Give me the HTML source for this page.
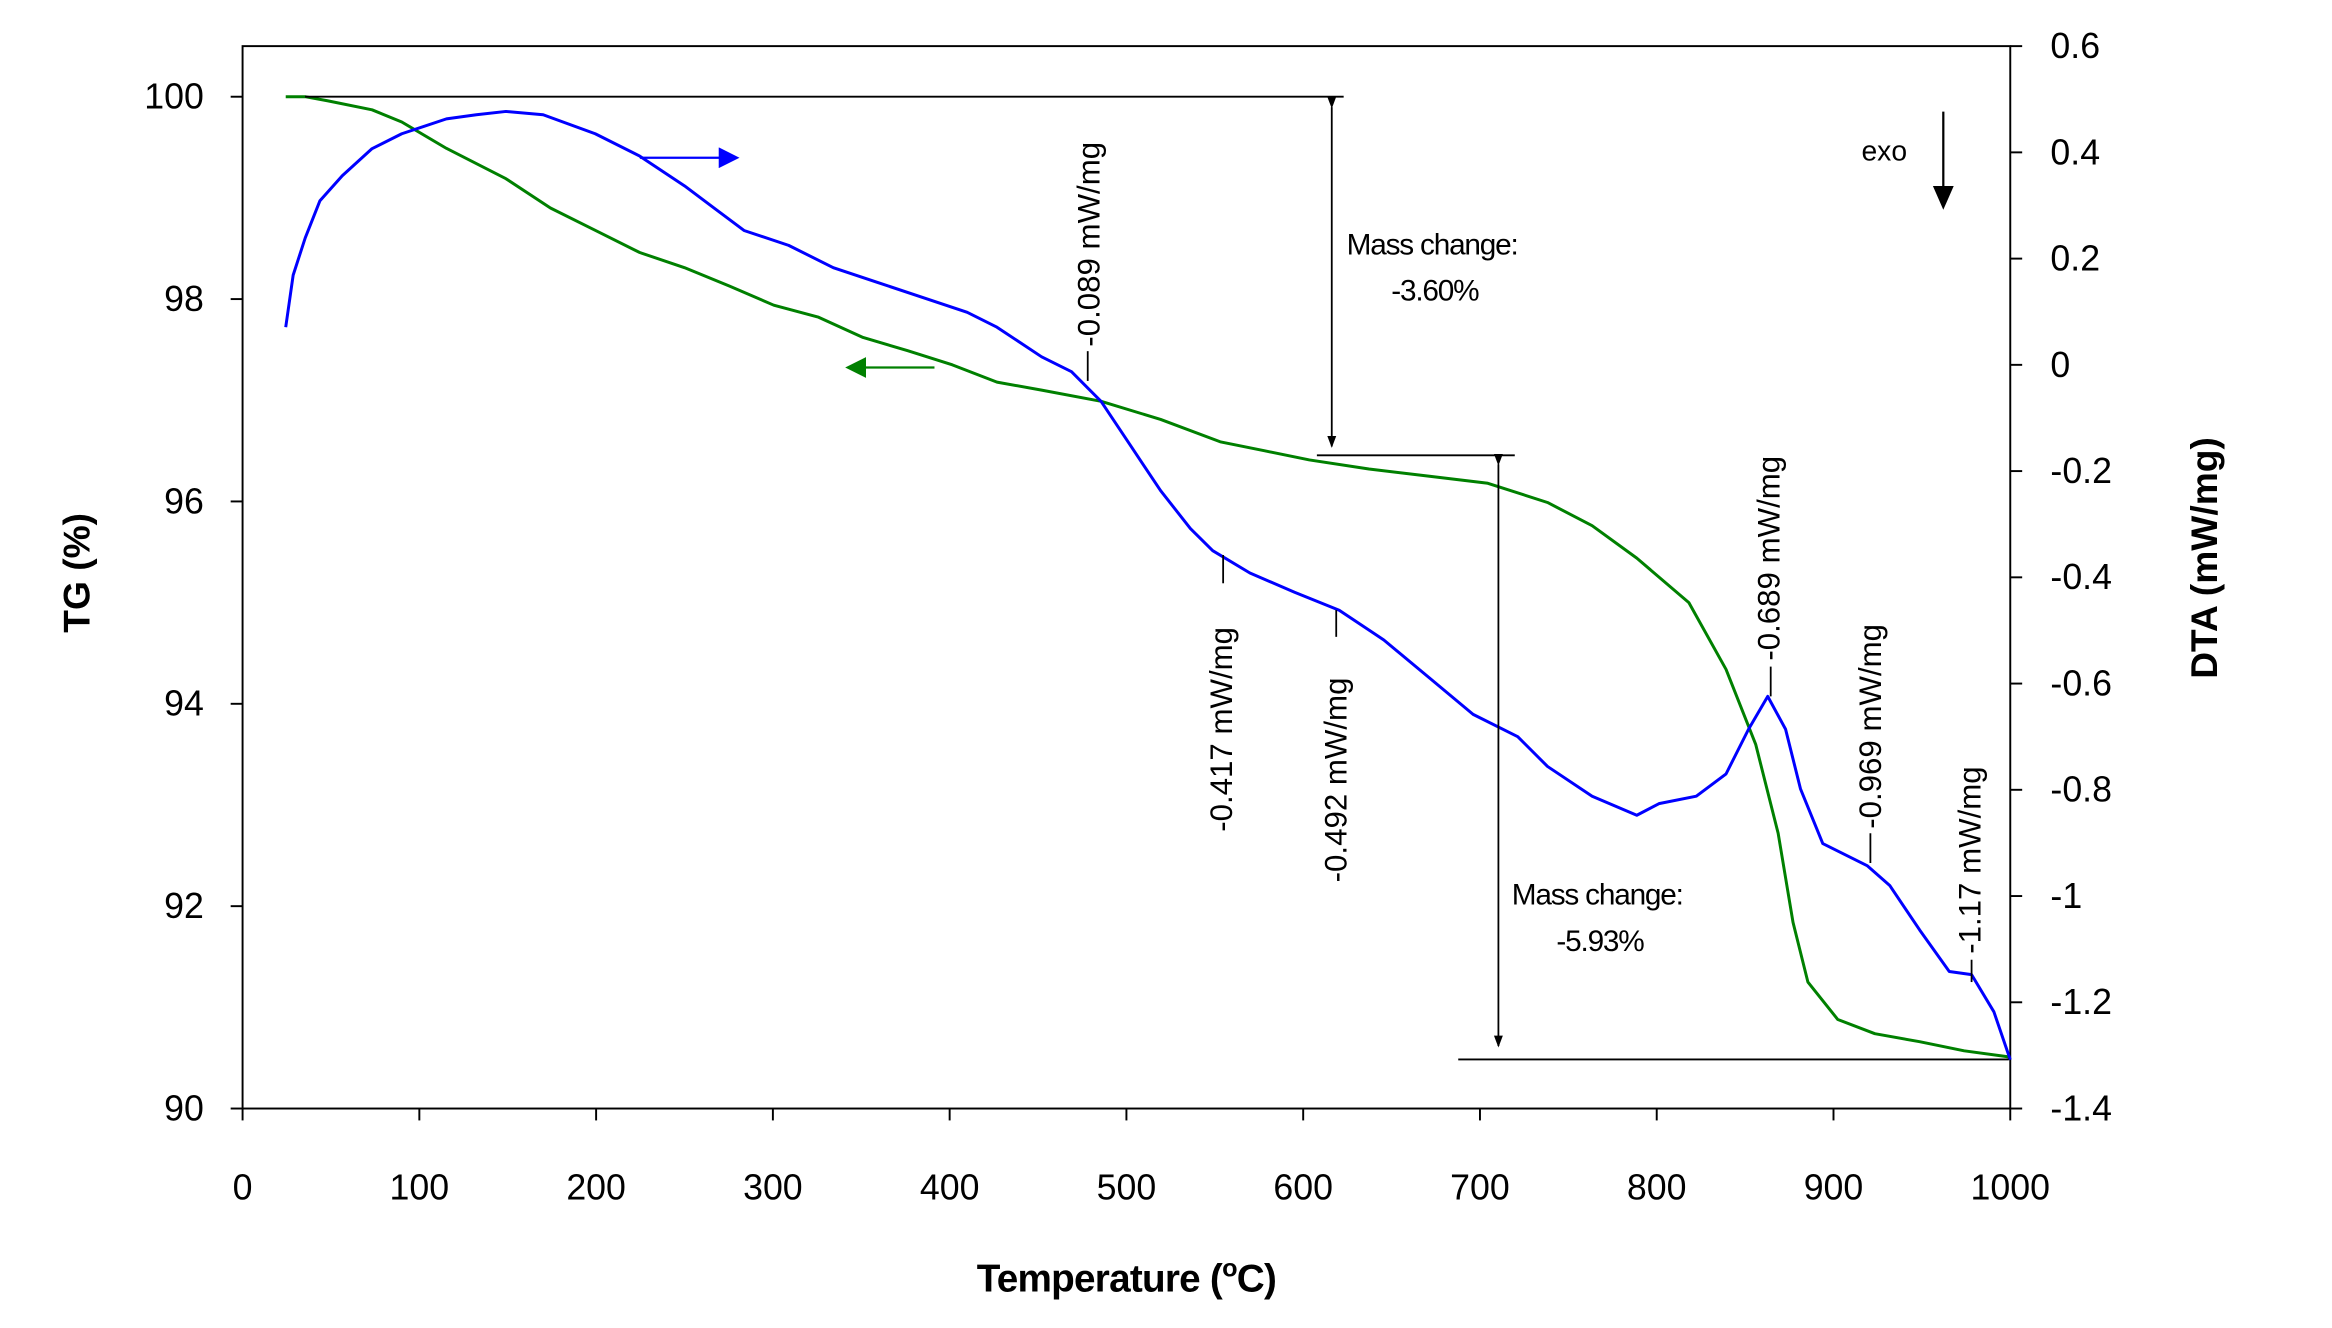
<!DOCTYPE html>
<html><head><meta charset="utf-8"><style>
html,body{margin:0;padding:0;background:#fff;}
svg{display:block;}
text{font-family:"Liberation Sans",Arial,sans-serif;fill:#000;}
</style></head><body>
<svg id="chart" width="2332" height="1328" viewBox="0 0 1567.2 892.5" xmlns="http://www.w3.org/2000/svg">
<defs>
<marker id="ah" markerWidth="8" markerHeight="8" refX="7" refY="4" orient="auto" markerUnits="userSpaceOnUse"><path d="M0,1 L8,4 L0,7 Z" fill="#000"/></marker>
<marker id="ahb" markerWidth="14" markerHeight="14" refX="12" refY="7" orient="auto" markerUnits="userSpaceOnUse"><path d="M0,0 L14,7 L0,14 Z" fill="#0000ff"/></marker>
<marker id="ahg" markerWidth="14" markerHeight="14" refX="12" refY="7" orient="auto" markerUnits="userSpaceOnUse"><path d="M0,0 L14,7 L0,14 Z" fill="#008000"/></marker>
<marker id="ahk" markerWidth="16" markerHeight="16" refX="14" refY="8" orient="auto" markerUnits="userSpaceOnUse"><path d="M0,1 L16,8 L0,15 Z" fill="#000"/></marker>
</defs>
<g id="axes"></g>
<g id="series"></g>
<g id="annot">
  <line x1="205" y1="65" x2="903" y2="65" stroke="#000" stroke-width="1.3"/>
  <line x1="895" y1="72" x2="895" y2="300" stroke="#000" stroke-width="1.2" marker-start="url(#ah)" marker-end="url(#ah)"/>
  <line x1="885" y1="306" x2="1018" y2="306" stroke="#000" stroke-width="1.3"/>
  <line x1="1007" y1="312" x2="1007" y2="703" stroke="#000" stroke-width="1.2" marker-start="url(#ah)" marker-end="url(#ah)"/>
  <line x1="980" y1="712" x2="1350" y2="712" stroke="#000" stroke-width="1.3"/>
  <text x="905" y="171" font-size="20" letter-spacing="-0.8">Mass change:</text>
  <text x="935" y="202" font-size="20" letter-spacing="-0.8">-3.60%</text>
  <text x="1016" y="608" font-size="20" letter-spacing="-0.8">Mass change:</text>
  <text x="1046" y="639" font-size="20" letter-spacing="-0.8">-5.93%</text>
  <g font-size="21">
    <line x1="731" y1="236" x2="731" y2="256" stroke="#000" stroke-width="1.2"/>
    <text transform="translate(739,233) rotate(-90)">-0.089 mW/mg</text>
    <line x1="822" y1="373" x2="822" y2="392" stroke="#000" stroke-width="1.2"/>
    <text transform="translate(828,559) rotate(-90)">-0.417 mW/mg</text>
    <line x1="898" y1="410" x2="898" y2="428" stroke="#000" stroke-width="1.2"/>
    <text transform="translate(905,593) rotate(-90)">-0.492 mW/mg</text>
    <line x1="1190" y1="448" x2="1190" y2="468" stroke="#000" stroke-width="1.2"/>
    <text transform="translate(1196,444) rotate(-90)">-0.689 mW/mg</text>
    <line x1="1257" y1="560" x2="1257" y2="580" stroke="#000" stroke-width="1.2"/>
    <text transform="translate(1264,557) rotate(-90)">-0.969 mW/mg</text>
    <line x1="1325" y1="645" x2="1325" y2="660" stroke="#000" stroke-width="1.2"/>
    <text transform="translate(1331,641) rotate(-90)">-1.17 mW/mg</text>
  </g>
  <line x1="430" y1="106" x2="495" y2="106" stroke="#0000ff" stroke-width="1.5" marker-end="url(#ahb)"/>
  <line x1="628" y1="247" x2="570" y2="247" stroke="#008000" stroke-width="1.5" marker-end="url(#ahg)"/>
  <text x="1251" y="108" font-size="19">exo</text>
  <line x1="1306" y1="75" x2="1306" y2="139" stroke="#000" stroke-width="1.5" marker-end="url(#ahk)"/>
</g>
<text x="757" y="868" font-size="26" font-weight="bold" text-anchor="middle" letter-spacing="-0.5">Temperature (<tspan font-size="17" dy="-10">o</tspan><tspan dy="10">C)</tspan></text>
<text transform="translate(60,385) rotate(-90)" font-size="25" font-weight="bold" text-anchor="middle">TG (%)</text>
<text transform="translate(1490,375) rotate(-90)" font-size="25" font-weight="bold" text-anchor="middle">DTA (mW/mg)</text>
</svg>
<script>
const xTicks = [0,100,200,300,400,500,600,700,800,900,1000];
const tgTicks = [90,92,94,96,98,100];
const dtaTicks = [0.6,0.4,0.2,0,-0.2,-0.4,-0.6,-0.8,-1,-1.2,-1.4];
const tgTemp = [24.4,35.4,48,73.2,90.1,115.3,149,174.2,199.5,224.7,250,275.3,300.5,325.8,351,376.3,401.5,426.8,452,485.7,519.4,553,578.3,603.5,637.2,670.9,704.5,738.2,763.5,788.7,818.2,839.2,856,868.7,877.1,885.5,902.4,923.4,948.7,973.9,999.2];
const tgValues = [100.0,100.0,99.96,99.87,99.75,99.49,99.19,98.9,98.68,98.46,98.31,98.13,97.94,97.82,97.62,97.49,97.35,97.18,97.1,96.99,96.81,96.59,96.5,96.41,96.32,96.25,96.18,95.99,95.76,95.44,95.0,94.34,93.6,92.72,91.84,91.25,90.88,90.74,90.66,90.57,90.51];
const dtaTemp = [24.4,28.6,35.4,43.8,56.4,73.2,90.1,115.3,132.2,149,170,199.5,224.7,250,266.8,283.7,308.9,334.2,359.4,384.7,409.9,426.8,452,468.9,485.7,502.5,519.4,536.2,548.8,569.9,595.1,620.4,645.6,670.9,696.1,721.4,738.2,763.5,788.7,801.3,822.4,839.2,851.9,862.8,872.9,881.3,893.9,919.2,931.8,948.7,965.5,978.1,990.7,1000];
const dtaValues = [0.071,0.169,0.239,0.309,0.356,0.407,0.435,0.463,0.471,0.477,0.471,0.435,0.393,0.337,0.295,0.253,0.225,0.183,0.155,0.127,0.099,0.071,0.015,-0.013,-0.069,-0.153,-0.237,-0.308,-0.350,-0.392,-0.428,-0.462,-0.518,-0.588,-0.658,-0.700,-0.756,-0.812,-0.848,-0.826,-0.812,-0.770,-0.686,-0.624,-0.686,-0.798,-0.901,-0.943,-0.980,-1.064,-1.142,-1.148,-1.218,-1.308];

const L=163,R=1351,T=31,B=745;
const NS="http://www.w3.org/2000/svg";
const xS=v=>L+(v-0)/1000*(R-L);
const tgS=v=>B-(v-90)*68;
const dtaS=v=>T+(0.6-v)/2.0*(B-T);
function mk(tag,attrs,parent){const e=document.createElementNS(NS,tag);for(const k in attrs)e.setAttribute(k,attrs[k]);parent.appendChild(e);return e;}
const ax=document.getElementById('axes');
const frame=mk('rect',{x:L,y:T,width:R-L,height:B-T,fill:'none',stroke:'#000','stroke-width':1.3},ax);


xTicks.forEach(v=>{
  const x=xS(v);
  const tk=mk('line',{x1:x,y1:B,x2:x,y2:B+8,stroke:'#000','stroke-width':1.3},ax);
  
  
  const t=mk('text',{x:x,y:806,'font-size':24,'text-anchor':'middle'},ax);
  t.textContent=v;
  
  
});
tgTicks.forEach(v=>{
  const y=tgS(v);
  const tk=mk('line',{x1:L-8,y1:y,x2:L,y2:y,stroke:'#000','stroke-width':1.3},ax);
  
  
  const t=mk('text',{x:137,y:y+8,'font-size':24,'text-anchor':'end'},ax);
  t.textContent=v;
  
  
});
dtaTicks.forEach(v=>{
  const y=dtaS(v);
  const tk=mk('line',{x1:R,y1:y,x2:R+8,y2:y,stroke:'#000','stroke-width':1.3},ax);
  
  
  const t=mk('text',{x:1378,y:y+8,'font-size':24},ax);
  t.textContent=v;
  
  
});
const sr=document.getElementById('series');
const tgPts=tgTemp.map((t,i)=>xS(t).toFixed(1)+','+tgS(tgValues[i]).toFixed(1)).join(' ');
const tgLine=mk('polyline',{points:tgPts,fill:'none',stroke:'#008000','stroke-width':2,'stroke-linejoin':'round'},sr);


const dtaPts=dtaTemp.map((t,i)=>xS(t).toFixed(1)+','+dtaS(dtaValues[i]).toFixed(1)).join(' ');
const dtaLine=mk('polyline',{points:dtaPts,fill:'none',stroke:'#0000ff','stroke-width':2,'stroke-linejoin':'round'},sr);


</script>
</body></html>
